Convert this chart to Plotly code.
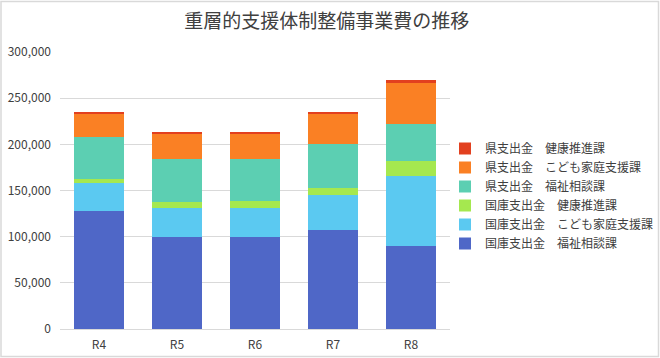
import plotly.graph_objects as go

categories = ["R4", "R5", "R6", "R7", "R8"]

kokko_fukushi = [127500, 99800, 99800, 107700, 90300]
kokko_kodomo = [30100, 31000, 31000, 37200, 75200]
kokko_kenko = [5400, 6900, 7600, 7600, 16300]
ken_fukushi = [44500, 45900, 45200, 48100, 40500]
ken_kodomo = [26300, 28600, 27900, 32600, 43700]
ken_kenko = [1500, 1100, 1800, 1700, 3600]

series_names = [
    "国庫支出金　福祉相談課",
    "国庫支出金　こども家庭支援課",
    "国庫支出金　健康推進課",
    "県支出金　福祉相談課",
    "県支出金　こども家庭支援課",
    "県支出金　健康推進課",
]
series_values = [kokko_fukushi, kokko_kodomo, kokko_kenko, ken_fukushi, ken_kodomo, ken_kenko]
colors = ["#4F67C7", "#5BC9F1", "#A5E84F", "#5CCFB2", "#FA8024", "#E2401F"]

tick_vals = [0, 50000, 100000, 150000, 200000, 250000, 300000]
tick_text = ["0", "50,000", "100,000", "150,000", "200,000", "250,000", "300,000"]

font_family = "Noto Sans CJK JP, Noto Sans, sans-serif"

fig = go.Figure()
for name, vals, col in zip(series_names, series_values, colors):
    fig.add_trace(go.Bar(x=categories, y=vals, name=name,
                         marker=dict(color=col, line=dict(width=0))))

fig.update_layout(
    width=660, height=358,
    barmode="stack",
    bargap=0.36,
    paper_bgcolor="white",
    plot_bgcolor="white",
    margin=dict(l=60, r=210, t=52, b=29, autoexpand=False),
    font=dict(family=font_family, size=12, color="#595959"),
    title=dict(text="重層的支援体制整備事業費の推移", x=0.495, xanchor="center",
               y=0.94, yanchor="middle",
               font=dict(family=font_family, size=19, color="#404040")),
    legend=dict(traceorder="reversed", xref="container", yref="container",
                x=445/660, xanchor="left", y=(358 - 196) / 358, yanchor="middle",
                bgcolor="rgba(0,0,0,0)", font=dict(size=12, color="#404040"),
                itemwidth=30, tracegroupgap=0),
    showlegend=True,
)
fig.update_xaxes(showgrid=False, showline=True, linecolor="#d9d9d9", linewidth=1,
                 ticks="", automargin=False, ticklabelstandoff=5,
                 tickfont=dict(size=12, color="#404040"))
fig.update_yaxes(range=[0, 300000], tickvals=tick_vals, ticktext=tick_text,
                 showgrid=True, gridcolor="#d9d9d9", gridwidth=1, zeroline=False,
                 showline=False, ticks="", ticklen=0, automargin=False,
                 ticklabelstandoff=8,
                 tickfont=dict(size=12, color="#404040"))

fig.add_shape(type="rect", xref="paper", yref="paper",
              x0=-59/390, x1=(660 - 60 - 1.5) / 390,
              y0=-27.5/277, y1=(358 - 29 - 1.5) / 277,
              line=dict(color="#d9d9d9", width=1.5), fillcolor="rgba(0,0,0,0)", layer="below")

fig.write_html("out.html", config={"displayModeBar": False},
               post_script="document.body.style.margin='0';document.body.style.overflow='hidden';")
